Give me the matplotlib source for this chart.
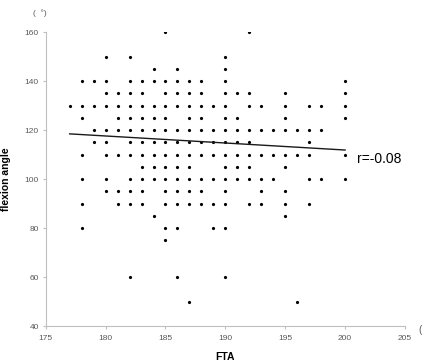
import matplotlib
matplotlib.use("Agg")
import matplotlib.pyplot as plt

# FTA values observed at each flexion angle level
fta_by_angle = {
    160: [185, 192],
    150: [180, 182, 190],
    145: [184, 186, 190],
    140: [178, 179, 180, 182, 183, 184, 185, 186, 187, 188, 190, 200],
    135: [180, 181, 182, 183, 185, 186, 187, 188, 190, 191, 192, 195, 200],
    130: [177, 178, 179, 180, 181, 182, 183, 184, 185, 186, 187, 188, 189,
          190, 192, 193, 195, 197, 198, 200],
    125: [178, 181, 182, 183, 184, 185, 187, 188, 190, 191, 195, 200],
    120: [179, 180, 181, 182, 183, 184, 185, 186, 187, 188, 189, 190, 191,
          192, 193, 194, 195, 196, 197, 198],
    115: [179, 180, 182, 183, 184, 185, 186, 187, 188, 189, 190, 191, 192, 197],
    110: [178, 180, 181, 182, 183, 184, 185, 186, 187, 188, 189, 190, 191,
          192, 193, 194, 195, 196, 197, 200],
    105: [183, 184, 185, 186, 187, 190, 191, 192, 195],
    100: [178, 180, 182, 183, 184, 185, 186, 187, 188, 189, 190, 191, 192,
          193, 194, 197, 198, 200],
    95: [180, 181, 182, 183, 185, 186, 187, 188, 190, 193, 195],
    90: [178, 181, 182, 183, 185, 186, 187, 188, 189, 190, 192, 193, 195, 197],
    85: [184, 195],
    80: [178, 185, 186, 189, 190],
    75: [185],
    60: [182, 186, 190],
    50: [187, 196],
}

fta = [x for angle, xs in fta_by_angle.items() for x in xs]
angle = [a for a, xs in fta_by_angle.items() for _ in xs]

# regression line end points
trend_x = [177, 200]
trend_y = [118.5, 111.9]

x_ticks = [175, 180, 185, 190, 195, 200, 205]
y_ticks = [40, 60, 80, 100, 120, 140, 160]

plt.rcParams['font.family'] = ['Liberation Sans', 'DejaVu Sans']

fig = plt.figure(figsize=(4.30, 3.62), dpi=100)
ax = fig.add_axes([0.1063, 0.0994, 0.8356, 0.8114])

ax.plot(fta, angle, 'o', color='black', markersize=2.3, markeredgewidth=0)
ax.plot(trend_x, trend_y, '-', color='#1a1a1a', linewidth=1.0)

ax.set_xlim(175, 205)
ax.set_ylim(40, 160)
ax.set_xticks(x_ticks)
ax.set_yticks(y_ticks)

for side in ['top', 'right']:
    ax.spines[side].set_visible(False)
for side in ['left', 'bottom']:
    ax.spines[side].set_color('#bfbfbf')
    ax.spines[side].set_linewidth(0.8)
ax.tick_params(axis='both', direction='out', length=2.5, width=0.8,
               color='#bfbfbf', labelsize=6, labelcolor='#595959')
ax.tick_params(axis='x', pad=4)
ax.tick_params(axis='y', pad=2.5)

ax.set_xlabel('FTA', fontsize=7.5, fontweight='bold')
ax.set_ylabel('flexion angle', fontsize=7.5, fontweight='bold')
ax.xaxis.set_label_coords(0.5, -0.09)
ax.yaxis.set_label_coords(-0.097, 0.5)

ax.text(201, 108.3, 'r=-0.08', fontsize=10, va='center', ha='left')
fig.text(33 / 430, 1 - 13 / 362, '(  °)', fontsize=6, color='#595959',
         va='center', ha='left')
fig.text(418 / 430, 1 - 330 / 362, '(', fontsize=7, color='#595959',
         va='center', ha='left')

fig.savefig('out.png', dpi=100)
